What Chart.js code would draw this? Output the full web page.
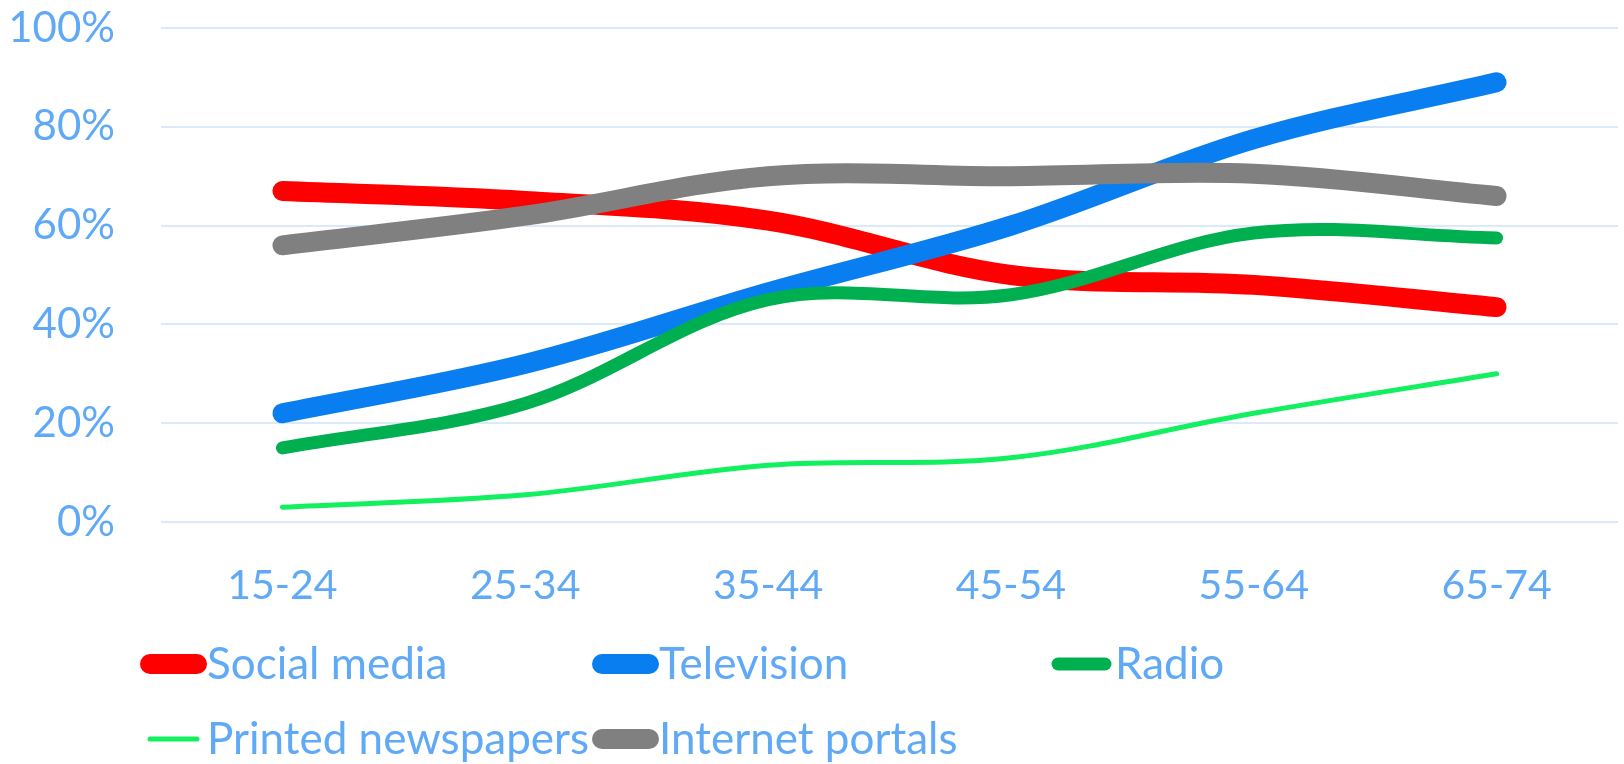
<!DOCTYPE html>
<html>
<head>
<meta charset="utf-8">
<title>Media use by age group</title>
<script src="https://cdn.jsdelivr.net/npm/chart.js@4"></script>
<style>
    html, body { margin: 0; padding: 0; background: #ffffff; }
    #wrap { width: 1624px; height: 764px; position: relative; }
</style>
</head>
<body>
<div id="wrap"><canvas id="mediaChart"></canvas></div>
<script>
// Chart data
const ageGroups = ['15-24', '25-34', '35-44', '45-54', '55-64', '65-74'];
const seriesNames = ['Social media', 'Television', 'Radio', 'Printed newspapers', 'Internet portals'];
const socialMedia = [67, 65, 61, 50, 48, 43.5];
const television = [22, 32, 46.5, 60, 77.5, 89];
const radio = [15, 24, 45, 46, 58.5, 57.5];
const printedNewspapers = [3, 5.5, 11.5, 13, 22, 30];
const internetPortals = [56, 62, 70, 70, 70.5, 66];
const yTicks = [0, 20, 40, 60, 80, 100];

// Styles
const textColor = '#5fa9f6';
const gridColor = '#dbeafa';
const fontFamily = 'Lato, "Open Sans", sans-serif';
const lineColors = ['#ff0000', '#087ef0', '#00b050', '#12ef5f', '#808080'];
const lineWidths = [20, 20, 13, 5, 20];

// Legend placement (Excel style grid: 3 columns, 2 rows)
const legendCols = [140, 592, 1048];
const legendRows = [664, 739];

const seriesValues = [socialMedia, television, radio, printedNewspapers, internetPortals];

function buildDatasets() {
    return seriesNames.map((name, i) => ({
        label: name,
        data: seriesValues[i],
        borderColor: lineColors[i],
        backgroundColor: lineColors[i],
        borderWidth: lineWidths[i],
        borderCapStyle: 'round',
        borderJoinStyle: 'round',
        pointRadius: 0,
        tension: 0.35,
        fill: false,
        // later series on top, like Excel
        order: seriesNames.length - i
    }));
}

// Draw the legend as a fixed grid below the axis
const gridLegend = {
    id: 'gridLegend',
    afterDraw(chart) {
        const ctx = chart.ctx;
        ctx.save();
        ctx.font = '44px ' + fontFamily;
        ctx.textBaseline = 'middle';
        ctx.textAlign = 'left';
        chart.data.datasets.forEach((ds, i) => {
            const x = legendCols[i % 3];
            const y = legendRows[Math.floor(i / 3)];
            ctx.strokeStyle = ds.borderColor;
            ctx.lineWidth = ds.borderWidth;
            ctx.lineCap = 'round';
            ctx.beginPath();
            ctx.moveTo(x + 10, y);
            ctx.lineTo(x + 57, y);
            ctx.stroke();
            ctx.fillStyle = textColor;
            ctx.fillText(ds.label, x + 67, y + 1);
        });
        ctx.restore();
    }
};

function createMediaChart() {
    const ctx = document.getElementById('mediaChart').getContext('2d');

    new Chart(ctx, {
        type: 'line',
        data: {
            labels: ageGroups,
            datasets: buildDatasets()
        },
        options: {
            responsive: true,
            maintainAspectRatio: false,
            animation: false,
            layout: {
                padding: { top: 28, right: 6, left: 0, bottom: 142 }
            },
            scales: {
                x: {
                    offset: true,
                    grid: { display: false, drawTicks: false },
                    border: { display: false },
                    ticks: {
                        color: textColor,
                        font: { family: fontFamily, size: 41 },
                        padding: 39
                    },
                    afterFit: function(scale) {
                        scale.height = 100;
                    }
                },
                y: {
                    min: 0,
                    max: 100,
                    afterBuildTicks: function(scale) {
                        scale.ticks = yTicks.map(v => ({ value: v }));
                    },
                    // invisible tick marks make the gap between labels and plot
                    grid: { color: gridColor, lineWidth: 2, drawTicks: true, tickLength: 46, tickColor: 'rgba(0,0,0,0)' },
                    border: { display: false },
                    ticks: {
                        color: textColor,
                        font: { family: fontFamily, size: 42 },
                        padding: 0,
                        callback: function(value) {
                            return value + '%';
                        }
                    },
                    afterFit: function(scale) {
                        scale.width = 161;
                    }
                }
            },
            plugins: {
                legend: { display: false },
                tooltip: { enabled: false }
            }
        },
        plugins: [gridLegend]
    });
}

document.addEventListener('DOMContentLoaded', function() {
    createMediaChart();
});
</script>
</body>
</html>
